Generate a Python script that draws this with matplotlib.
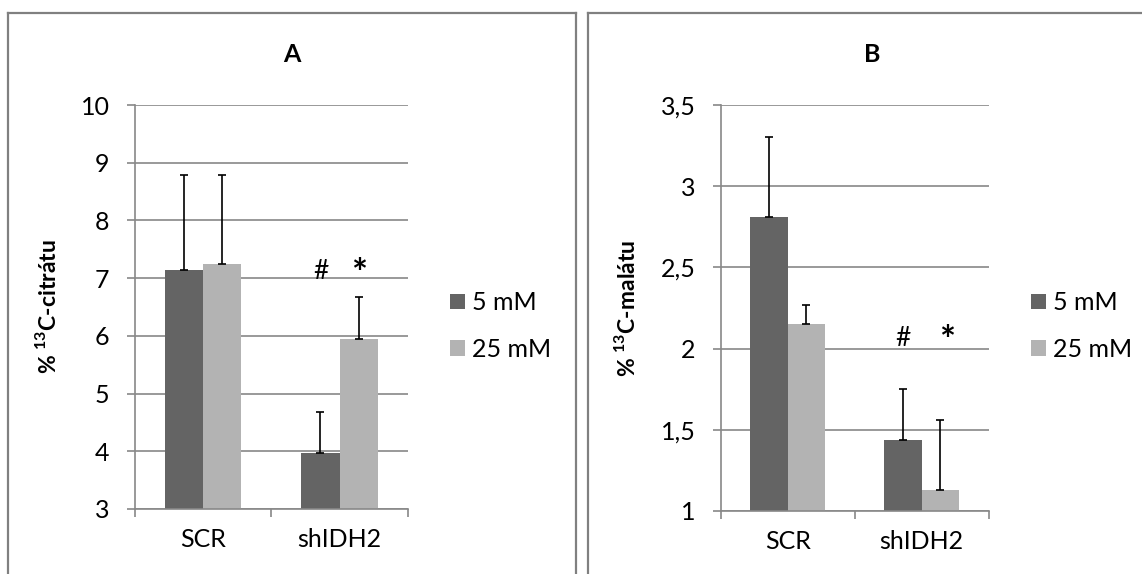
import matplotlib
matplotlib.use('Agg')
import matplotlib.pyplot as plt
from matplotlib.lines import Line2D
from matplotlib.ticker import FuncFormatter, FixedLocator
import numpy as np

plt.rcParams['font.family'] = ['Lato', 'DejaVu Sans']
plt.rcParams['mathtext.fontset'] = 'custom'
plt.rcParams['mathtext.rm'] = 'Lato'
plt.rcParams['mathtext.bf'] = 'Lato:bold'

# --- data ---
groups = ['SCR', 'shIDH2']
series_names = ['5 mM', '25 mM']

citrate_5 = [7.14, 3.97]
citrate_25 = [7.25, 5.95]
citrate_5_err = [1.64, 0.71]
citrate_25_err = [1.53, 0.72]

malate_5 = [2.81, 1.44]
malate_25 = [2.15, 1.13]
malate_5_err = [0.49, 0.31]
malate_25_err = [0.12, 0.43]

panel_titles = ['A', 'B']
y_labels = [r'% $^{\mathbf{13}}$C-citrátu', r'% $^{\mathbf{13}}$C-malátu']
y_ticks_a = [3, 4, 5, 6, 7, 8, 9, 10]
y_ticks_b = [1, 1.5, 2, 2.5, 3, 3.5]

DARK = '#646464'
LIGHT = '#b3b3b3'
GRID = '#888888'
BORDER = '#808080'
FS = 18

W, H = 1142, 574
fig = plt.figure(figsize=(W / 100, H / 100), dpi=100)


def px_axes(left, right, top, bottom):
    return fig.add_axes([left / W, 1 - bottom / H, (right - left) / W, (bottom - top) / H])


def draw_panel(ax, v5, v25, e5, e25, yticks, ylabel, comma, ylab_x):
    x = np.arange(len(groups))
    bw = 0.28
    ax.bar(x - bw / 2, v5, bw, color=DARK, label=series_names[0], zorder=2)
    ax.bar(x + bw / 2, v25, bw, color=LIGHT, label=series_names[1], zorder=2)
    ax.errorbar(x - bw / 2, v5, yerr=[np.zeros(len(v5)), e5], fmt='none',
                ecolor='black', elinewidth=1.2, capsize=2.6, capthick=1.2, zorder=3)
    ax.errorbar(x + bw / 2, v25, yerr=[np.zeros(len(v25)), e25], fmt='none',
                ecolor='black', elinewidth=1.2, capsize=2.6, capthick=1.2, zorder=3)

    ax.set_xlim(-0.5, len(groups) - 0.5)
    ax.set_ylim(yticks[0], yticks[-1])
    ax.set_yticks(yticks)
    ax.yaxis.grid(True, color=GRID, linewidth=1.2, zorder=0)
    ax.set_axisbelow(True)

    ax.set_xticks(x)
    ax.set_xticklabels(groups)
    ax.xaxis.set_minor_locator(FixedLocator([-0.5, 0.5, 1.5]))
    ax.tick_params(axis='x', which='major', length=0, pad=14, labelsize=FS)
    ax.tick_params(axis='x', which='minor', length=6, width=1.2, color=GRID, direction='out')
    ax.tick_params(axis='y', length=6, width=1.2, color=GRID, direction='out', pad=12, labelsize=FS)

    if comma:
        ax.yaxis.set_major_formatter(FuncFormatter(lambda v, p: ('%g' % v).replace('.', ',')))

    for s in ['top', 'right']:
        ax.spines[s].set_visible(False)
    ax.spines['left'].set_color(GRID)
    ax.spines['bottom'].set_color(GRID)
    ax.spines['left'].set_linewidth(1.2)
    ax.spines['bottom'].set_linewidth(1.2)

    ax.set_ylabel(ylabel, fontsize=16.5, fontweight='bold')
    ax.yaxis.set_label_coords(ylab_x, 0.5)


ax_a = px_axes(134.5, 408, 105, 509)
draw_panel(ax_a, citrate_5, citrate_25, citrate_5_err, citrate_25_err,
           y_ticks_a, y_labels[0], False, -0.272)
ax_a.text(1 - 0.14, 7.12, '#', ha='center', va='center', fontsize=19)
ax_a.text(1 + 0.14, 7.05, '*', ha='center', va='center', fontsize=27, fontweight='bold')

ax_b = px_axes(720.7, 988.6, 105, 511)
draw_panel(ax_b, malate_5, malate_25, malate_5_err, malate_25_err,
           y_ticks_b, y_labels[1], True, -0.305)
ax_b.text(1 - 0.14, 2.06, '#', ha='center', va='center', fontsize=19)
ax_b.text(1 + 0.19, 2.04, '*', ha='center', va='center', fontsize=27, fontweight='bold')

# titles (centred over the whole chart area, as in the spreadsheet export)
fig.text(292 / W, 1 - 54 / H, panel_titles[0], ha='center', va='center', fontsize=FS, fontweight='bold')
fig.text(872 / W, 1 - 54 / H, panel_titles[1], ha='center', va='center', fontsize=FS, fontweight='bold')

# legends
for ax, lx in [(ax_a, 450), (ax_b, 1031)]:
    ax.legend(loc='center left', bbox_to_anchor=(lx / W, 1 - 326 / H),
              bbox_transform=fig.transFigure, frameon=False, fontsize=FS,
              handlelength=0.58, handleheight=0.58, handletextpad=0.3,
              labelspacing=0.95, borderpad=0, borderaxespad=0)

# chart frames
lw = 1.6
fig.add_artist(Line2D([8 / W, 8 / W], [0, 1 - 13 / H], transform=fig.transFigure, color=BORDER, lw=lw))
fig.add_artist(Line2D([8 / W, 576 / W], [1 - 13 / H, 1 - 13 / H], transform=fig.transFigure, color=BORDER, lw=lw))
fig.add_artist(Line2D([576 / W, 576 / W], [0, 1 - 13 / H], transform=fig.transFigure, color=BORDER, lw=lw))
fig.add_artist(Line2D([588 / W, 588 / W], [0, 1 - 13 / H], transform=fig.transFigure, color=BORDER, lw=lw))
fig.add_artist(Line2D([588 / W, 1], [1 - 13 / H, 1 - 13 / H], transform=fig.transFigure, color=BORDER, lw=lw))

fig.savefig('out.png', dpi=100)
